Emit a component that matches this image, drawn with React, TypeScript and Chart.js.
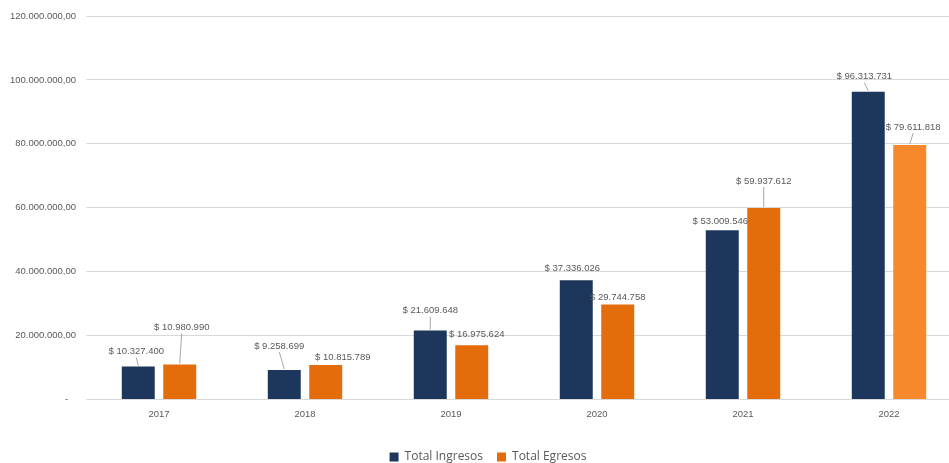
import React, { useEffect, useRef } from "react";
import { Chart, registerables } from "chart.js";

Chart.register(...registerables);

const years = ["2017", "2018", "2019", "2020", "2021", "2022"];
const ingresos = [10327400, 9258699, 21609648, 37336026, 53009546, 96313731];
const egresos = [10980990, 10815789, 16975624, 29744758, 59937612, 79611818];
const seriesNames = ["Total Ingresos", "Total Egresos"];
const yTickValues = [0, 20000000, 40000000, 60000000, 80000000, 100000000, 120000000];

// label placement offsets (px) relative to each bar's top centre
const ingresosLabelOffsets = [[-2, -15], [-5, -24], [0, -20], [-4, -12], [-2, -9], [-4, -15]];
const egresosLabelOffsets = [[2, -37], [17, -8], [5, -11], [0, -7], [0, -27], [3.5, -18]];

const NAVY = "#1c375b";
const ORANGE = "#e46c0a";
const ORANGE_LIGHT = "#f5892c";
const TEXT = "#595959";
const GRID = "#d9d9d9";
const NUM_FONT = "'Liberation Sans', Arial, sans-serif";

function groupDots(n: number): string {
  return Math.round(n).toString().replace(/\B(?=(\d{3})+(?!\d))/g, ".");
}

const valueLabels = {
  id: "valueLabels",
  afterDatasetsDraw(chart: any) {
    const ctx = chart.ctx;
    const offsets = [ingresosLabelOffsets, egresosLabelOffsets];
    ctx.save();
    ctx.font = `9.5px ${NUM_FONT}`;
    ctx.textAlign = "center";
    ctx.textBaseline = "middle";
    chart.data.datasets.forEach((ds: any, di: number) => {
      const meta = chart.getDatasetMeta(di);
      meta.data.forEach((bar: any, i: number) => {
        const [dx, dy] = offsets[di][i];
        const x = bar.x + dx;
        const y = bar.y + dy;
        if (-dy >= 14) {
          ctx.strokeStyle = "#a6a6a6";
          ctx.lineWidth = 1;
          ctx.beginPath();
          ctx.moveTo(x, y + 6);
          ctx.lineTo(bar.x, bar.y - 1);
          ctx.stroke();
        }
        ctx.fillStyle = TEXT;
        ctx.fillText("$ " + groupDots(ds.data[i]), x, y);
      });
    });
    ctx.restore();
  },
};

const legendShift = {
  id: "legendShift",
  afterLayout(chart: any) {
    if (chart.legend) {
      chart.legend.left += 14;
    }
  },
};

export default function App() {
  const ref = useRef<HTMLCanvasElement | null>(null);

  useEffect(() => {
    document.body.style.margin = "0";
    const canvas = ref.current!;
    const chart = new Chart(canvas, {
      type: "bar",
      data: {
        labels: years,
        datasets: [
          {
            label: seriesNames[0],
            data: ingresos,
            backgroundColor: NAVY,
            barPercentage: 0.795,
            categoryPercentage: 0.568,
          },
          {
            label: seriesNames[1],
            data: egresos,
            backgroundColor: egresos.map((_, i) => (i === egresos.length - 1 ? ORANGE_LIGHT : ORANGE)),
            barPercentage: 0.795,
            categoryPercentage: 0.568,
          },
        ],
      },
      options: {
        responsive: false,
        animation: false,
        devicePixelRatio: 1,
        layout: { padding: { left: 0, right: 13, top: 16, bottom: -10 } },
        plugins: {
          tooltip: { enabled: false },
          legend: {
            position: "bottom",
            labels: {
              boxWidth: 9,
              boxHeight: 9,
              padding: 14,
              color: TEXT,
              font: { family: "'Open Sans', sans-serif", size: 12 },
              generateLabels: (c: any) =>
                c.data.datasets.map((ds: any, i: number) => ({
                  text: ds.label,
                  fillStyle: i === 0 ? NAVY : ORANGE,
                  strokeStyle: i === 0 ? NAVY : ORANGE,
                  lineWidth: 0,
                  datasetIndex: i,
                  fontColor: TEXT,
                })),
            },
          },
        },
        scales: {
          x: {
            grid: { display: false },
            border: { display: true, color: GRID },
            afterFit: (scale: any) => {
              scale.height += 16;
            },
            ticks: { color: TEXT, font: { family: NUM_FONT, size: 9.5 }, padding: 1 },
          },
          y: {
            min: 0,
            max: 120000000,
            afterFit: (scale: any) => {
              scale.width = 86;
            },
            afterBuildTicks: (scale: any) => {
              scale.ticks = yTickValues.map((v) => ({ value: v }));
            },
            grid: { color: GRID, drawTicks: false },
            border: { display: false },
            ticks: {
              color: TEXT,
              padding: 10,
              font: { family: NUM_FONT, size: 9.5 },
              callback: (v: any) => (Number(v) === 0 ? "-   " : groupDots(Number(v)) + ",00"),
            },
          },
        },
      },
      plugins: [valueLabels, legendShift],
    });
    return () => chart.destroy();
  }, []);

  return (
    <div style={{ position: "absolute", left: 0, top: 0, width: 949, height: 463, overflow: "hidden", background: "#fff" }}>
      <canvas ref={ref} width={975} height={463} style={{ width: 975, height: 463, display: "block" }} />
    </div>
  );
}
